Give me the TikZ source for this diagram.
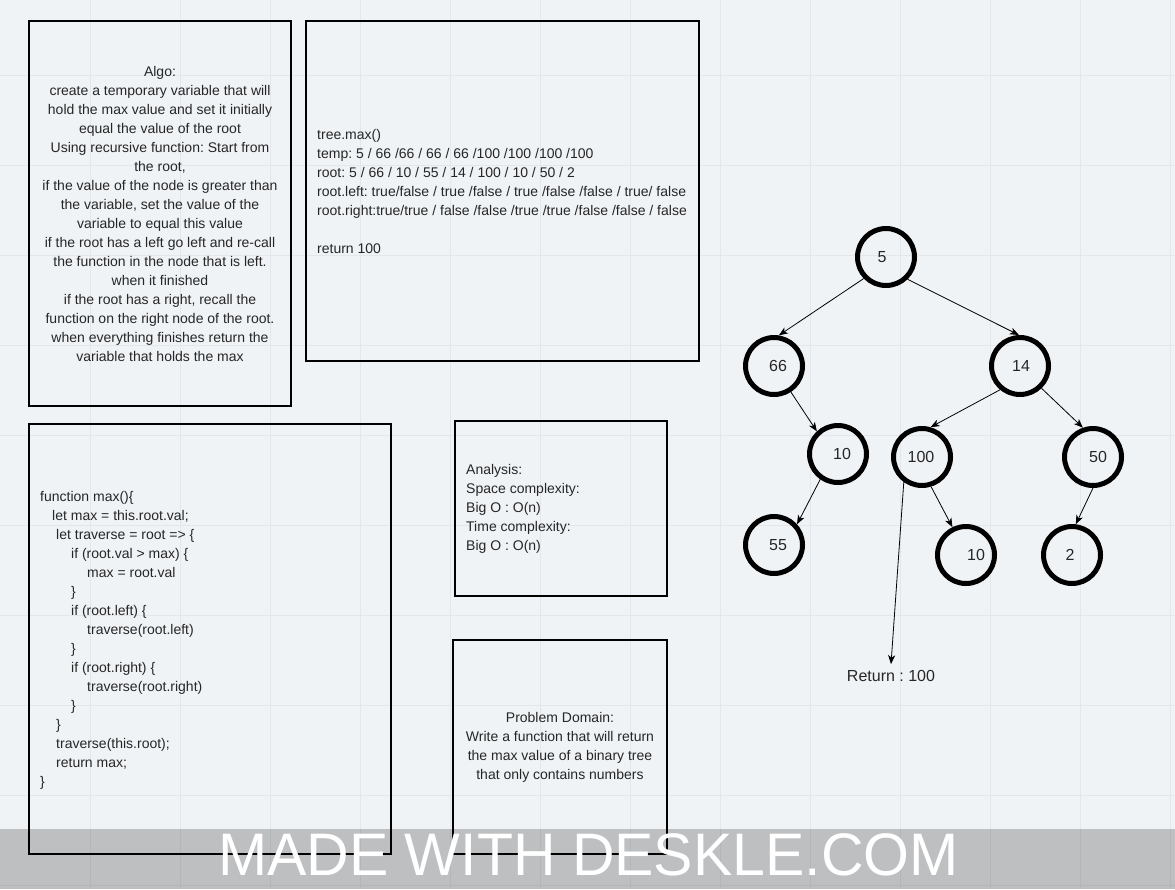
\documentclass[tikz,border=0pt]{standalone}
\usepackage{fontspec}
\setmainfont{Liberation Sans}
\usetikzlibrary{arrows.meta}
\definecolor{bgc}{HTML}{F0F3F6}
\definecolor{gridc}{HTML}{E3E7EB}
\tikzset{
  box/.style={draw=black, line width=2pt},
  txt/.style={inner sep=0pt, font=\fontsize{14}{19}\selectfont, text=black!85},
  tnode/.style={circle, draw=black, line width=5pt, minimum size=57pt, inner sep=0pt},
  tlab/.style={font=\fontsize{16}{19}\selectfont, text=black!85},
  edge/.style={line width=0.8pt, -{Stealth[length=9pt,width=7pt,inset=2.5pt]}},
}
\frenchspacing
\begin{document}
\begin{tikzpicture}[x=1pt,y=-1pt]
\useasboundingbox (0,0) rectangle (1175,889);
\fill[bgc] (0,0) rectangle (1175,889);
\foreach \gx in {90,180,...,1170} \draw[gridc, line width=0.8pt] (\gx,0) -- (\gx,889);
\foreach \gy in {75,165,...,885} \draw[gridc, line width=0.8pt] (0,\gy) -- (1175,\gy);

% boxes
\draw[box] (29,21) rectangle (291,406);
\draw[box] (306,21) rectangle (699,361);
\draw[box] (29,424) rectangle (391,854);
\draw[box] (455,421) rectangle (667,596);
\draw[box] (453,640) rectangle (667,854);

\node[txt, align=center] (algo) at (160,213.5) {\frenchspacing Algo:\\create a temporary variable that will\\hold the max value and set it initially\\equal the value of the root\\Using recursive function: Start from\\the root,\\if the value of the node is greater than\\the variable, set the value of the\\variable to equal this value\\if the root has a left go left and re-call\\the function in the node that is left.\\when it finished\\if the root has a right, recall the\\function on the right node of the root.\\when everything finishes return the\\variable that holds the max};

\node[txt, align=left, anchor=west] (trace) at (317,191) {\frenchspacing tree.max()\\temp: 5 / 66 /66 / 66 / 66 /100 /100 /100 /100\\root: 5 / 66 / 10 / 55 / 14 / 100 / 10 / 50 / 2\\root.left: true/false / true /false / true /false /false / true/ false\\root.right:true/true / false /false /true /true /false /false / false\\[19pt]return 100};

\node[txt, align=left, anchor=west] (code) at (40,640) {\frenchspacing function max()\{\\
\hspace*{12pt}let max = this.root.val;\\
\hspace*{16pt}let traverse = root => \{\\
\hspace*{31pt}if (root.val > max) \{\\
\hspace*{47pt}max = root.val\\
\hspace*{31pt}\}\\
\hspace*{31pt}if (root.left) \{\\
\hspace*{47pt}traverse(root.left)\\
\hspace*{31pt}\}\\
\hspace*{31pt}if (root.right) \{\\
\hspace*{47pt}traverse(root.right)\\
\hspace*{31pt}\}\\
\hspace*{16pt}\}\\
\hspace*{16pt}traverse(this.root);\\
\hspace*{16pt}return max;\\
\}};

\node[txt, align=left, anchor=west] (analysis) at (466,509) {\frenchspacing Analysis:\\Space complexity:\\Big O : O(n)\\Time complexity:\\Big O : O(n)};

\node[txt, align=center] (domain) at (560,747.5) {\frenchspacing Problem Domain:\\Write a function that will return\\the max value of a binary tree\\that only contains numbers};

% tree
\node[tnode, label={[tlab, xshift=-4pt]center:5}] (n5) at (886,257) {};
\node[tnode, label={[tlab, xshift=4pt]center:66}] (n66) at (774,366) {};
\node[tnode, label={[tlab, xshift=1pt]center:14}] (n14) at (1020,366) {};
\node[tnode, label={[tlab, xshift=4pt]center:10}] (n10) at (838,454) {};
\node[tnode, label={[tlab, xshift=-1pt]center:100}] (n100) at (922,457) {};
\node[tnode, label={[tlab, xshift=5pt]center:50}] (n50) at (1093,457) {};
\node[tnode, label={[tlab, xshift=4pt]center:55}] (n55) at (774,545) {};
\node[tnode, label={[tlab, xshift=10pt]center:10}] (n10b) at (966,555) {};
\node[tnode, label={[tlab, xshift=-2pt]center:2}] (n2) at (1072,555) {};
\node[tlab, inner xsep=1pt, inner ysep=6pt] (ret) at (891,676) {\frenchspacing Return : 100};

\draw[edge] (n5.224) -- (n66.81);
\draw[edge] (n5.314) -- (n14.92);
\draw[edge] (n66.303) -- (n10.133);
\draw[edge] (n10.235) -- (n55.42);
\draw[edge] (n14.230) -- (n100.74);
\draw[edge] (n14.314) -- (n50.109);
\draw[edge] (n100.287) -- (n10b.116);
\draw[edge] (n50.270) -- (n2.83);
\draw[edge] (n100.234) -- (ret.north);

% banner
\fill[black, opacity=0.21] (0,829) rectangle (1175,889);
\node[anchor=base, inner sep=0pt, text=white, font=\fontsize{60}{60}\selectfont, xscale=0.983] (banner) at (588.5,875) {MADE WITH DESKLE.COM};
\end{tikzpicture}
\end{document}
